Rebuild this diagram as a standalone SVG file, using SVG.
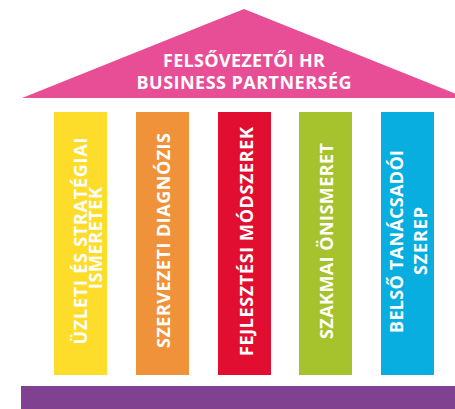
<svg xmlns="http://www.w3.org/2000/svg" width="455" height="409" viewBox="0 0 455 409">
<style>
text{font-family:"Open Sans","DejaVu Sans",sans-serif;font-weight:bold;fill:#fff;text-anchor:middle}
.t{font-size:18px}
.p{font-size:18px}
</style>
<rect width="455" height="409" fill="#fff"/>
<g id="roof">
<polygon points="22,98 244,9 466,98" fill="#E84E96"/>
<text class="t" x="244" y="67" textLength="162" lengthAdjust="spacing">FELSŐVEZETŐI HR</text>
<text class="t" x="244" y="89" textLength="215" lengthAdjust="spacing">BUSINESS PARTNERSÉG</text>
</g>
<g id="pillar1">
<rect x="54" y="112" width="53" height="263" fill="#FDDC2A"/>
<text class="p" transform="translate(87,241) rotate(-90)" textLength="207" lengthAdjust="spacing">ÜZLETI ÉS STRATÉGIAI</text>
<text class="p" transform="translate(102,238) rotate(-90)" textLength="102" lengthAdjust="spacing">ISMERETEK</text>
</g>
<g id="pillar2">
<rect x="136" y="112" width="53" height="263" fill="#EF923A"/>
<text class="p" transform="translate(170,240.5) rotate(-90)" textLength="215" lengthAdjust="spacing">SZERVEZETI DIAGNÓZIS</text>
</g>
<g id="pillar3">
<rect x="218" y="112" width="53" height="263" fill="#E20E31"/>
<text class="p" transform="translate(253,241.5) rotate(-90)" textLength="229" lengthAdjust="spacing">FEJLESZTÉSI MÓDSZEREK</text>
</g>
<g id="pillar4">
<rect x="299" y="112" width="53" height="263" fill="#A6C22C"/>
<text class="p" transform="translate(333,241) rotate(-90)" textLength="196" lengthAdjust="spacing">SZAKMAI ÖNISMERET</text>
</g>
<g id="pillar5">
<rect x="381" y="112" width="53" height="263" fill="#08AEDF"/>
<text class="p" transform="translate(403,241.5) rotate(-90)" textLength="183" lengthAdjust="spacing">BELSŐ TANÁCSADÓI</text>
<text class="p" transform="translate(427,241) rotate(-90)" textLength="68" lengthAdjust="spacing">SZEREP</text>
</g>
<g id="base">
<rect x="21" y="386" width="434" height="23" fill="#7F4190"/>
</g>
<g id="connectors"></g>
</svg>
